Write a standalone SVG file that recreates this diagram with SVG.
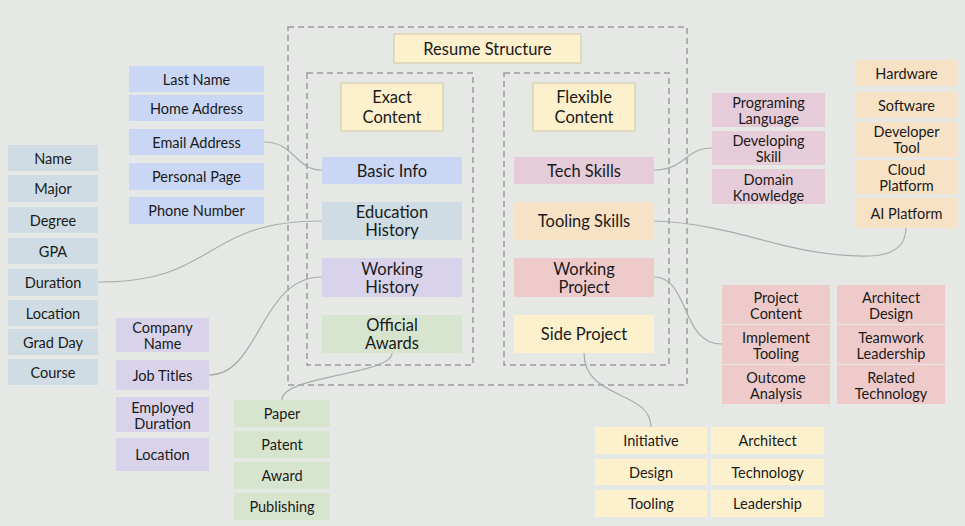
<svg xmlns="http://www.w3.org/2000/svg" width="965" height="526" viewBox="0 0 965 526">
<style>
text{font-family:"Lato","Noto Sans",sans-serif;font-size:14.5px;fill:#1a1a1a;text-anchor:middle;dominant-baseline:central}
.big{font-size:16.5px}
.dash{fill:none;stroke:#9a9a9a;stroke-width:1.5;stroke-dasharray:6 4}
.c{fill:none;stroke:#a9adaa;stroke-width:1.2}
.t{fill:#fcf1cc;stroke:#d9d3b8;stroke-width:1.5}
.bl{fill:#c9d7f4}.gb{fill:#cfdce3}.pu{fill:#d8d3ea}.gr{fill:#d7e5cf}.pk{fill:#e6ccd8}.or{fill:#f8e2c6}.rd{fill:#eecaca}.ye{fill:#fcf1cc}
</style>
<rect width="965" height="526" fill="#e6e8e6"/>
<g id="frames">
<rect class="dash" x="288" y="27" width="399" height="358"/>
<rect class="dash" x="307" y="73" width="166" height="292"/>
<rect class="dash" x="504" y="73" width="165" height="292"/>
</g>
<g id="connectors">
<path class="c" d="M264,142 C295,142 295,170 322,170"/>
<path class="c" d="M322,221 C200,221 220,282 98,282"/>
<path class="c" d="M322,277 C260,277 260,375 209,375"/>
<path class="c" d="M392,353 C392,375 282,375 282,400"/>
<path class="c" d="M654,170 C685,170 685,148 712,148"/>
<path class="c" d="M654,221 C740,224 790,258 870,256 C900,255 906,240 906,228"/>
<path class="c" d="M654,277 C690,277 680,344 722,344"/>
<path class="c" d="M584,353 C584,400 651,390 651,427"/>
</g>
<g id="resume"><rect class="t" x="394" y="34" width="187" height="29"/><text class="big" x="487.5" y="49">Resume Structure</text></g>
<g id="exact"><rect class="t" x="341" y="83" width="102" height="48"/><text class="big" x="392" y="97">Exact</text><text class="big" x="392" y="117">Content</text></g>
<g id="flex"><rect class="t" x="533" y="83" width="102" height="48"/><text class="big" x="584" y="97">Flexible</text><text class="big" x="584" y="117">Content</text></g>
<g id="basic"><rect class="bl" x="322" y="157" width="140" height="27"/><text class="big" x="392" y="171">Basic Info</text></g>
<g id="edu"><rect class="gb" x="322" y="202" width="140" height="38"/><text class="big" x="392" y="212">Education</text><text class="big" x="392" y="230">History</text></g>
<g id="work"><rect class="pu" x="322" y="258" width="140" height="39"/><text class="big" x="392" y="269">Working</text><text class="big" x="392" y="287">History</text></g>
<g id="awards"><rect class="gr" x="322" y="315" width="140" height="38"/><text class="big" x="392" y="325">Official</text><text class="big" x="392" y="343">Awards</text></g>
<g id="tech"><rect class="pk" x="514" y="157" width="140" height="27"/><text class="big" x="584" y="171">Tech Skills</text></g>
<g id="tool"><rect class="or" x="514" y="202" width="140" height="38"/><text class="big" x="584" y="221">Tooling Skills</text></g>
<g id="wproj"><rect class="rd" x="514" y="258" width="140" height="39"/><text class="big" x="584" y="269">Working</text><text class="big" x="584" y="287">Project</text></g>
<g id="side"><rect class="ye" x="514" y="315" width="140" height="38"/><text class="big" x="584" y="334">Side Project</text></g>

<g id="basic-items">
<rect class="bl" x="129" y="66" width="135" height="26"/><text x="196.5" y="79">Last Name</text>
<rect class="bl" x="129" y="95" width="135" height="26"/><text x="196.5" y="108">Home Address</text>
<rect class="bl" x="129" y="129" width="135" height="26"/><text x="196.5" y="142">Email Address</text>
<rect class="bl" x="129" y="163" width="135" height="27"/><text x="196.5" y="176.5">Personal Page</text>
<rect class="bl" x="129" y="197" width="135" height="27"/><text x="196.5" y="210.5">Phone Number</text>
</g>
<g id="edu-items">
<rect class="gb" x="8" y="145" width="90" height="26"/><text x="53" y="158">Name</text>
<rect class="gb" x="8" y="175" width="90" height="27"/><text x="53" y="188.5">Major</text>
<rect class="gb" x="8" y="207" width="90" height="26"/><text x="53" y="220">Degree</text>
<rect class="gb" x="8" y="238" width="90" height="26"/><text x="53" y="251">GPA</text>
<rect class="gb" x="8" y="269" width="90" height="27"/><text x="53" y="282.5">Duration</text>
<rect class="gb" x="8" y="300" width="90" height="26"/><text x="53" y="313">Location</text>
<rect class="gb" x="8" y="329" width="90" height="26"/><text x="53" y="342">Grad Day</text>
<rect class="gb" x="8" y="359" width="90" height="26"/><text x="53" y="372">Course</text>
</g>
<g id="work-items">
<rect class="pu" x="116" y="318" width="93" height="34"/><text x="162.5" y="327">Company</text><text x="162.5" y="343">Name</text>
<rect class="pu" x="116" y="360" width="93" height="30"/><text x="162.5" y="375">Job Titles</text>
<rect class="pu" x="116" y="397" width="93" height="35"/><text x="162.5" y="407">Employed</text><text x="162.5" y="423">Duration</text>
<rect class="pu" x="116" y="438" width="93" height="33"/><text x="162.5" y="454.5">Location</text>
</g>
<g id="award-items">
<rect class="gr" x="234" y="400" width="96" height="27"/><text x="282" y="413.5">Paper</text>
<rect class="gr" x="234" y="431" width="96" height="27"/><text x="282" y="444.5">Patent</text>
<rect class="gr" x="234" y="462" width="96" height="27"/><text x="282" y="475.5">Award</text>
<rect class="gr" x="234" y="493" width="96" height="27"/><text x="282" y="506.5">Publishing</text>
</g>
<g id="tech-items">
<rect class="pk" x="712" y="93" width="113" height="34"/><text x="768.5" y="102">Programing</text><text x="768.5" y="118">Language</text>
<rect class="pk" x="712" y="131" width="113" height="34"/><text x="768.5" y="140">Developing</text><text x="768.5" y="156">Skill</text>
<rect class="pk" x="712" y="169" width="113" height="35"/><text x="768.5" y="179">Domain</text><text x="768.5" y="195">Knowledge</text>
</g>
<g id="tool-items">
<rect class="or" x="856" y="60" width="101" height="26"/><text x="906.5" y="73">Hardware</text>
<rect class="or" x="856" y="92" width="101" height="26"/><text x="906.5" y="105">Software</text>
<rect class="or" x="856" y="122" width="101" height="35"/><text x="906.5" y="131">Developer</text><text x="906.5" y="147">Tool</text>
<rect class="or" x="856" y="160" width="101" height="34"/><text x="906.5" y="169">Cloud</text><text x="906.5" y="185">Platform</text>
<rect class="or" x="856" y="198" width="101" height="30"/><text x="906.5" y="213">AI Platform</text>
</g>
<g id="wproj-items">
<rect class="rd" x="722" y="285" width="108" height="39"/><text x="776" y="297">Project</text><text x="776" y="313">Content</text>
<rect class="rd" x="722" y="325" width="108" height="39"/><text x="776" y="337">Implement</text><text x="776" y="353">Tooling</text>
<rect class="rd" x="722" y="365" width="108" height="39"/><text x="776" y="377">Outcome</text><text x="776" y="393">Analysis</text>
<rect class="rd" x="837" y="285" width="108" height="39"/><text x="891" y="297">Architect</text><text x="891" y="313">Design</text>
<rect class="rd" x="837" y="325" width="108" height="39"/><text x="891" y="337">Teamwork</text><text x="891" y="353">Leadership</text>
<rect class="rd" x="837" y="365" width="108" height="39"/><text x="891" y="377">Related</text><text x="891" y="393">Technology</text>
</g>
<g id="side-items">
<rect class="ye" x="595" y="427" width="112" height="27"/><text x="651" y="440.5">Initiative</text>
<rect class="ye" x="595" y="459" width="112" height="26"/><text x="651" y="472">Design</text>
<rect class="ye" x="595" y="490" width="112" height="27"/><text x="651" y="503.5">Tooling</text>
<rect class="ye" x="711" y="427" width="113" height="27"/><text x="767.5" y="440.5">Architect</text>
<rect class="ye" x="711" y="459" width="113" height="26"/><text x="767.5" y="472">Technology</text>
<rect class="ye" x="711" y="490" width="113" height="27"/><text x="767.5" y="503.5">Leadership</text>
</g>
</svg>
